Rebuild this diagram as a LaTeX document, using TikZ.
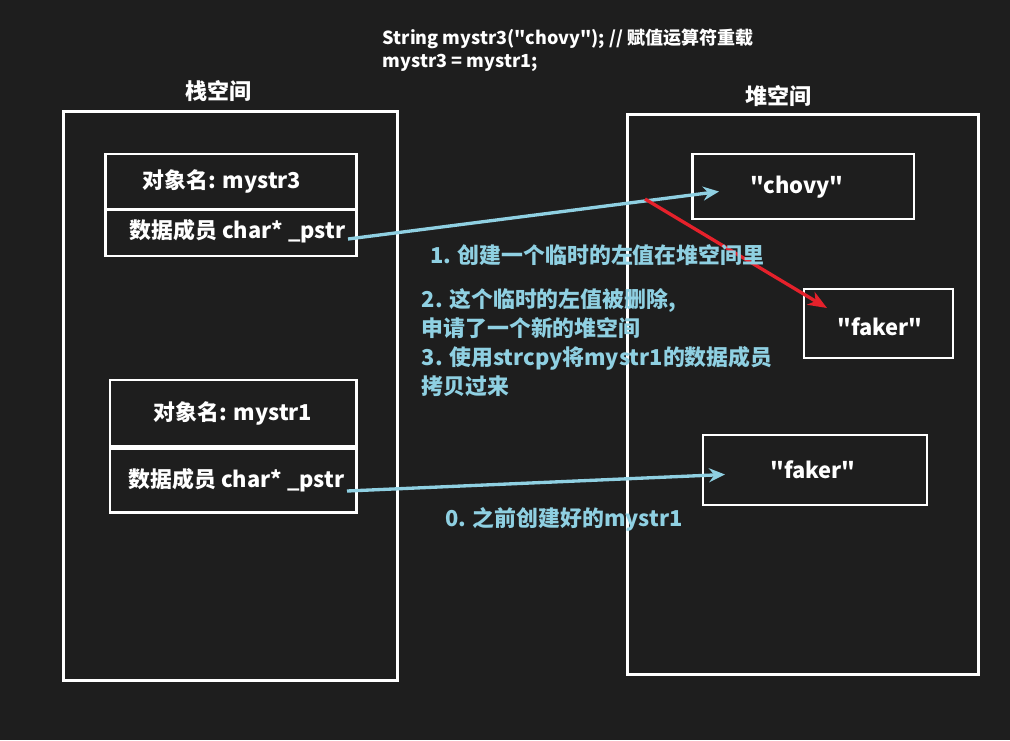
\documentclass[tikz,border=0pt]{standalone}
\usepackage{fontspec}
\setmainfont{Noto Sans CJK SC}[Ligatures=TeXOff]
\usetikzlibrary{arrows.meta}
\definecolor{bg}{HTML}{1E1E1E}
\definecolor{sky}{HTML}{8FD0E2}
\definecolor{redarr}{HTML}{E5212B}
\begin{document}
\begin{tikzpicture}[x=0.75pt,y=-0.75pt,
  frame/.style={draw=white, line width=2pt, inner sep=0pt, outer sep=0pt},
  wtext/.style={text=white, inner sep=0pt, font=\bfseries\fontsize{16.4pt}{19pt}\selectfont},
  ttext/.style={text=white, inner sep=0pt, font=\bfseries\fontsize{16.5pt}{20pt}\selectfont},
  ctext/.style={text=white, inner sep=0pt, align=left, font=\bfseries\fontsize{13.5pt}{17.25pt}\selectfont},
  btext/.style={text=sky, inner sep=0pt, align=left, font=\bfseries\fontsize{16.4pt}{21.6pt}\selectfont},
  barr/.style={draw=sky, line width=2.5pt, -{Stealth[length=12pt,width=10.5pt,inset=4pt]}},
  rarr/.style={draw=redarr, line width=2.5pt, -{Stealth[length=14pt,width=11pt,inset=4pt]}}
]
\fill[bg] (0,0) rectangle (1010,740);
\useasboundingbox (0,0) rectangle (1010,740);

% code
\node[ctext, anchor=base west] (code) at (382.5,67) {String mystr3("chovy"); // 赋值运算符重载\\mystr3 = mystr1;};

% titles
\node[ttext] (stacktitle) at (218,91) {栈空间};
\node[ttext] (heaptitle) at (778,96.5) {堆空间};

% containers
\node[frame, minimum width=250.5pt, minimum height=426.75pt] (stack) at (230.3,396.2) {};
\node[frame, minimum width=263.5pt, minimum height=420.3pt] (heap) at (803,394.5) {};

% mystr3 object
\node[frame, minimum width=188.25pt, minimum height=76.5pt] (obj3) at (231.2,205) {};
\coordinate (div3a) at (104,209.5);
\coordinate (div3b) at (obj3.east |- div3a);
\draw[white, line width=2pt] (div3a) -- (div3b);
\node[wtext] (name3) at (222,181) {对象名: mystr3};
\node[wtext] (data3) at (237.5,231) {数据成员 char* \_pstr};

% mystr1 object
\node[frame, minimum width=185pt, minimum height=49.5pt] (obj1top) at (233.35,413) {};
\node[frame, minimum width=185pt, minimum height=48.15pt] (obj1bot) at (233.35,480.6) {};
\node[wtext] (name1) at (233,413) {对象名: mystr1};
\node[wtext] (data1) at (236.5,480) {数据成员 char* \_pstr};

% heap objects
\node[frame, minimum width=166pt, minimum height=48.75pt] (chovybox) at (803.35,186.5) {};
\node[wtext] (chovy) at (797,187) {"chovy"};
\node[frame, minimum width=111.75pt, minimum height=51.75pt] (faker1box) at (878.5,323.5) {};
\node[wtext] (faker1) at (880,327) {"faker"};
\node[frame, minimum width=168pt, minimum height=52.5pt] (faker2box) at (815,470) {};
\node[wtext] (faker2) at (813,470) {"faker"};

% connectors
\coordinate (s3) at (348,239);
\coordinate (t3) at (719,191.5);
\coordinate (s1) at (347,491);
\coordinate (t1) at (725,474.5);
\coordinate (rs) at (645,199);
\coordinate (rt) at (827,308);
\draw[barr] (s3) -- (t3);
\draw[barr] (s1) -- (t1);
\draw[rarr] (rs) -- (rt);

% blue notes
\node[btext, anchor=base west] (note1) at (430,263) {1. 创建一个临时的左值在堆空间里};
\node[btext, anchor=base west] (note2) at (421.5,394) {2. 这个临时的左值被删除,\\申请了一个新的堆空间\\3. 使用strcpy将mystr1的数据成员\\拷贝过来};
\node[btext, anchor=base west] (note0) at (445,526) {0. 之前创建好的mystr1};
\end{tikzpicture}
\end{document}
